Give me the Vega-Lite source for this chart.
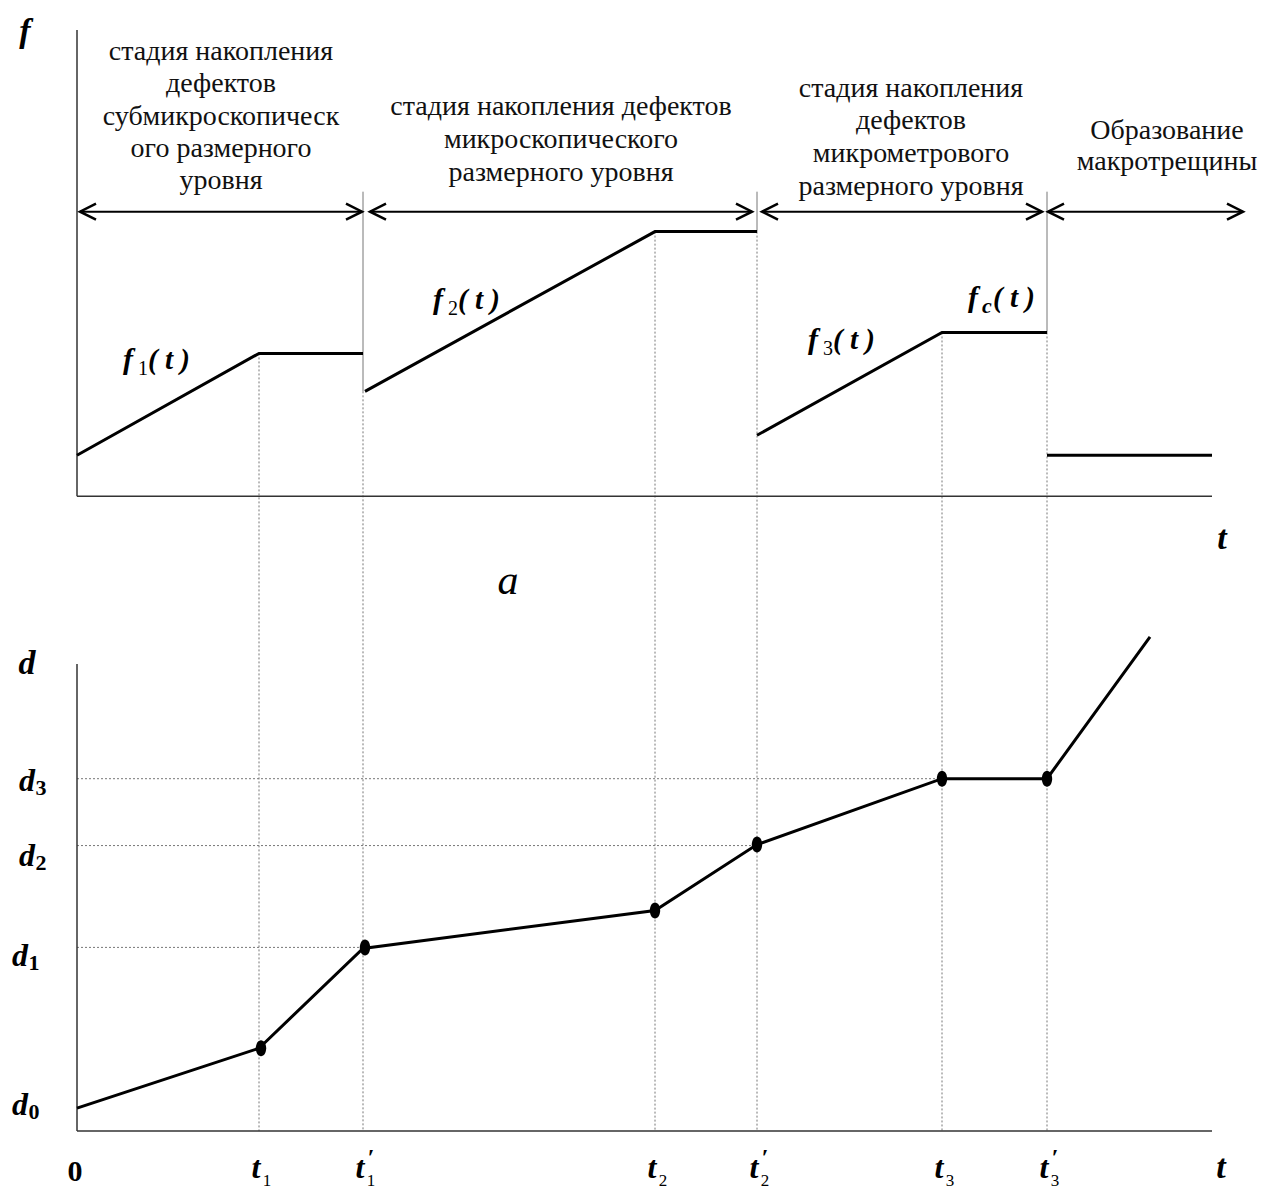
{
  "$schema": "https://vega.github.io/schema/vega-lite/v6.json",
  "width": 1264,
  "height": 1189,
  "padding": 0,
  "autosize": {"type": "fit", "contains": "padding"},
  "background": "white",
  "config": {"view": {"stroke": null}, "text": {"font": "Liberation Serif"}},
  "datasets": {
    "axTop": [
      {"t": 0, "f": 0, "t2": 0, "f2": 4.67},
      {"t": 0, "f": 0, "t2": 11.35, "f2": 0}
    ],
    "axBot": [
      {"t": 0, "d": 0, "t2": 0, "d2": 4.68},
      {"t": 0, "d": 0, "t2": 11.35, "d2": 0}
    ],
    "stages": [
      {"t": 1.44, "f": 4.37, "text": "стадия накопления"},
      {"t": 1.44, "f": 4.05, "text": "дефектов"},
      {"t": 1.44, "f": 3.72, "text": "субмикроскопическ"},
      {"t": 1.44, "f": 3.40, "text": "ого размерного"},
      {"t": 1.44, "f": 3.08, "text": "уровня"},
      {"t": 4.84, "f": 3.82, "text": "стадия накопления дефектов"},
      {"t": 4.84, "f": 3.49, "text": "микроскопического"},
      {"t": 4.84, "f": 3.16, "text": "размерного уровня"},
      {"t": 8.34, "f": 4.00, "text": "стадия накопления"},
      {"t": 8.34, "f": 3.68, "text": "дефектов"},
      {"t": 8.34, "f": 3.35, "text": "микрометрового"},
      {"t": 8.34, "f": 3.02, "text": "размерного уровня"},
      {"t": 10.90, "f": 3.58, "text": "Образование"},
      {"t": 10.90, "f": 3.27, "text": "макротрещины"}
    ],
    "arrows": [
      {"t": 0.03, "t2": 2.85, "f": 2.85},
      {"t": 2.93, "t2": 6.75, "f": 2.85},
      {"t": 6.85, "t2": 9.65, "f": 2.85},
      {"t": 9.71, "t2": 11.66, "f": 2.85}
    ],
    "seps": [
      {"t": 2.86, "f": 3.05, "f2": 1.05},
      {"t": 6.80, "f": 3.05, "f2": 2.65},
      {"t": 9.70, "f": 3.05, "f2": 1.64}
    ],
    "drops": [
      {"t": 1.82, "f": 1.43, "f2": -6.36},
      {"t": 2.86, "f": 1.05, "f2": -6.36},
      {"t": 5.78, "f": 2.65, "f2": -6.36},
      {"t": 6.80, "f": 2.65, "f2": -6.36},
      {"t": 8.65, "f": 1.64, "f2": -6.36},
      {"t": 9.70, "f": 1.64, "f2": -6.36}
    ],
    "fpts": [
      {"stage": 1, "t": 0, "f": 0.41},
      {"stage": 1, "t": 1.82, "f": 1.43},
      {"stage": 1, "t": 2.86, "f": 1.43},
      {"stage": 2, "t": 2.88, "f": 1.05},
      {"stage": 2, "t": 5.78, "f": 2.65},
      {"stage": 2, "t": 6.80, "f": 2.65},
      {"stage": 3, "t": 6.80, "f": 0.61},
      {"stage": 3, "t": 8.65, "f": 1.64},
      {"stage": 3, "t": 9.70, "f": 1.64},
      {"stage": 4, "t": 9.70, "f": 0.41},
      {"stage": 4, "t": 11.35, "f": 0.41}
    ],
    "flabels": [
      {"t": 0.46, "f": 1.27, "sub": "1"},
      {"t": 3.56, "f": 1.87, "sub": "2"},
      {"t": 7.31, "f": 1.47, "sub": "3"},
      {"t": 8.91, "f": 1.89, "sub": "c"}
    ],
    "namesTop": [
      {"kind": "axis", "t": -0.52, "f": 4.55, "text": "f"},
      {"kind": "axis", "t": 11.45, "f": -0.53, "text": "t"},
      {"kind": "panel", "t": 4.31, "f": -0.98, "text": "a"}
    ],
    "namesBot": [
      {"kind": "axis", "t": -0.50, "d": 4.58, "text": "d"},
      {"kind": "axis", "t": 11.44, "d": -0.47, "text": "t"},
      {"kind": "zero", "t": -0.02, "d": -0.50, "text": "0"}
    ],
    "dline": [
      {"t": 0, "d": 0.23},
      {"t": 1.82, "d": 0.83},
      {"t": 2.86, "d": 1.83},
      {"t": 5.78, "d": 2.21},
      {"t": 6.80, "d": 2.87},
      {"t": 8.65, "d": 3.53},
      {"t": 9.70, "d": 3.53},
      {"t": 10.73, "d": 4.95}
    ],
    "dots": [
      {"t": 1.84, "d": 0.83},
      {"t": 2.88, "d": 1.84},
      {"t": 5.78, "d": 2.21},
      {"t": 6.80, "d": 2.87},
      {"t": 8.65, "d": 3.53},
      {"t": 9.70, "d": 3.53}
    ],
    "dguides": [
      {"t": 0, "t2": 2.86, "d": 1.84},
      {"t": 0, "t2": 6.80, "d": 2.86},
      {"t": 0, "t2": 9.70, "d": 3.53}
    ],
    "dlabels": [
      {"t": -0.50, "d": 3.41, "sub": "3"},
      {"t": -0.50, "d": 2.66, "sub": "2"},
      {"t": -0.57, "d": 1.65, "sub": "1"},
      {"t": -0.57, "d": 0.16, "sub": "0"}
    ],
    "tlabels": [
      {"t": 1.82, "d": -0.47, "sub": "1", "prime": false},
      {"t": 2.86, "d": -0.47, "sub": "1", "prime": true},
      {"t": 5.78, "d": -0.47, "sub": "2", "prime": false},
      {"t": 6.80, "d": -0.47, "sub": "2", "prime": true},
      {"t": 8.65, "d": -0.47, "sub": "3", "prime": false},
      {"t": 9.70, "d": -0.47, "sub": "3", "prime": true}
    ]
  },
  "encoding": {
    "x": {"field": "t", "type": "quantitative", "scale": {"domain": [-0.77, 11.87], "nice": false, "zero": false}, "axis": null}
  },
  "layer": [
    {
      "encoding": {
        "y": {"field": "f", "type": "quantitative", "scale": {"domain": [-6.92, 4.97], "nice": false, "zero": false}, "axis": null}
      },
      "layer": [
        {
          "data": {"name": "drops"},
          "mark": {"type": "rule", "color": "#777", "strokeWidth": 1, "strokeDash": [2, 2]},
          "encoding": {"y2": {"field": "f2"}}
        },
        {
          "data": {"name": "seps"},
          "mark": {"type": "rule", "color": "#777", "strokeWidth": 1},
          "encoding": {"y2": {"field": "f2"}}
        },
        {
          "data": {"name": "axTop"},
          "mark": {"type": "rule", "color": "#333", "strokeWidth": 1.5},
          "encoding": {"x2": {"field": "t2"}, "y2": {"field": "f2"}}
        },
        {
          "data": {"name": "fpts"},
          "mark": {"type": "line", "color": "#000", "strokeWidth": 3},
          "encoding": {"detail": {"field": "stage", "type": "nominal"}}
        },
        {
          "data": {"name": "arrows"},
          "mark": {"type": "rule", "color": "#000", "strokeWidth": 2},
          "encoding": {"x2": {"field": "t2"}}
        },
        {
          "data": {"name": "arrows"},
          "mark": {"type": "point", "shape": "M 1,-0.5 L 0,0 L 1,0.5", "filled": false, "stroke": "#000", "strokeWidth": 2.5, "size": 1024, "opacity": 1},
          "encoding": {}
        },
        {
          "data": {"name": "arrows"},
          "mark": {"type": "point", "shape": "M -1,-0.5 L 0,0 L -1,0.5", "filled": false, "stroke": "#000", "strokeWidth": 2.5, "size": 1024, "opacity": 1},
          "encoding": {
            "x": {"field": "t2", "type": "quantitative", "scale": {"domain": [-0.77, 11.87], "nice": false, "zero": false}, "axis": null}
          }
        },
        {
          "data": {"name": "stages"},
          "mark": {"type": "text", "font": "Liberation Serif", "fontSize": 28, "align": "center", "baseline": "alphabetic", "color": "#111"},
          "encoding": {"text": {"field": "text", "type": "nominal"}}
        },
        {
          "data": {"name": "flabels"},
          "mark": {"type": "text", "font": "Liberation Serif", "fontSize": 30, "fontWeight": "bold", "fontStyle": "italic", "align": "left", "baseline": "alphabetic", "color": "#000"},
          "encoding": {"text": {"value": "f"}}
        },
        {
          "data": {"name": "flabels"},
          "transform": [{"filter": "!isNaN(+datum.sub)"}],
          "mark": {"type": "text", "font": "Liberation Serif", "fontSize": 20, "align": "left", "baseline": "alphabetic", "dx": 15, "dy": 6, "color": "#000"},
          "encoding": {"text": {"field": "sub", "type": "nominal"}}
        },
        {
          "data": {"name": "flabels"},
          "transform": [{"filter": "isNaN(+datum.sub)"}],
          "mark": {"type": "text", "font": "Liberation Serif", "fontSize": 22, "fontWeight": "bold", "fontStyle": "italic", "align": "left", "baseline": "alphabetic", "dx": 14, "dy": 6, "color": "#000"},
          "encoding": {"text": {"field": "sub", "type": "nominal"}}
        },
        {
          "data": {"name": "flabels"},
          "mark": {"type": "text", "font": "Liberation Serif", "fontSize": 29, "fontWeight": "bold", "fontStyle": "italic", "align": "left", "baseline": "alphabetic", "dx": 25, "color": "#000"},
          "encoding": {"text": {"value": "( t )"}}
        },
        {
          "data": {"name": "namesTop"},
          "transform": [{"filter": "datum.kind === 'axis'"}],
          "mark": {"type": "text", "font": "Liberation Serif", "fontSize": 34, "fontWeight": "bold", "fontStyle": "italic", "align": "center", "baseline": "alphabetic", "color": "#000"},
          "encoding": {"text": {"field": "text", "type": "nominal"}}
        },
        {
          "data": {"name": "namesTop"},
          "transform": [{"filter": "datum.kind === 'panel'"}],
          "mark": {"type": "text", "font": "Liberation Serif", "fontSize": 42, "fontStyle": "italic", "align": "center", "baseline": "alphabetic", "color": "#000"},
          "encoding": {"text": {"field": "text", "type": "nominal"}}
        }
      ]
    },
    {
      "encoding": {
        "y": {"field": "d", "type": "quantitative", "scale": {"domain": [-0.56, 11.33], "nice": false, "zero": false}, "axis": null}
      },
      "layer": [
        {
          "data": {"name": "dguides"},
          "mark": {"type": "rule", "color": "#777", "strokeWidth": 1, "strokeDash": [2, 2]},
          "encoding": {"x2": {"field": "t2"}}
        },
        {
          "data": {"name": "axBot"},
          "mark": {"type": "rule", "color": "#333", "strokeWidth": 1.5},
          "encoding": {"x2": {"field": "t2"}, "y2": {"field": "d2"}}
        },
        {
          "data": {"name": "dline"},
          "mark": {"type": "line", "color": "#000", "strokeWidth": 3},
          "encoding": {}
        },
        {
          "data": {"name": "dots"},
          "mark": {"type": "point", "shape": "M -0.65,0 A 0.65,1 0 1,1 0.65,0 A 0.65,1 0 1,1 -0.65,0 Z", "filled": true, "color": "#000", "size": 256, "opacity": 1},
          "encoding": {}
        },
        {
          "data": {"name": "dlabels"},
          "mark": {"type": "text", "font": "Liberation Serif", "fontSize": 32, "fontWeight": "bold", "fontStyle": "italic", "align": "center", "baseline": "alphabetic", "color": "#000"},
          "encoding": {"text": {"value": "d"}}
        },
        {
          "data": {"name": "dlabels"},
          "mark": {"type": "text", "font": "Liberation Serif", "fontSize": 22, "fontWeight": "bold", "align": "center", "baseline": "alphabetic", "dx": 14, "dy": 4, "color": "#000"},
          "encoding": {"text": {"field": "sub", "type": "nominal"}}
        },
        {
          "data": {"name": "tlabels"},
          "mark": {"type": "text", "font": "Liberation Serif", "fontSize": 32, "fontWeight": "bold", "fontStyle": "italic", "align": "center", "baseline": "alphabetic", "dx": -3, "color": "#000"},
          "encoding": {"text": {"value": "t"}}
        },
        {
          "data": {"name": "tlabels"},
          "mark": {"type": "text", "font": "Liberation Serif", "fontSize": 17, "align": "center", "baseline": "alphabetic", "dx": 8, "dy": 8, "color": "#000"},
          "encoding": {"text": {"field": "sub", "type": "nominal"}}
        },
        {
          "data": {"name": "tlabels"},
          "transform": [{"filter": "datum.prime"}],
          "mark": {"type": "text", "font": "Liberation Serif", "fontSize": 24, "fontWeight": "bold", "align": "center", "baseline": "alphabetic", "dx": 8, "dy": -13, "color": "#000"},
          "encoding": {"text": {"value": "′"}}
        },
        {
          "data": {"name": "namesBot"},
          "transform": [{"filter": "datum.kind === 'axis'"}],
          "mark": {"type": "text", "font": "Liberation Serif", "fontSize": 34, "fontWeight": "bold", "fontStyle": "italic", "align": "center", "baseline": "alphabetic", "color": "#000"},
          "encoding": {"text": {"field": "text", "type": "nominal"}}
        },
        {
          "data": {"name": "namesBot"},
          "transform": [{"filter": "datum.kind === 'zero'"}],
          "mark": {"type": "text", "font": "Liberation Serif", "fontSize": 30, "fontWeight": "bold", "align": "center", "baseline": "alphabetic", "color": "#000"},
          "encoding": {"text": {"field": "text", "type": "nominal"}}
        }
      ]
    }
  ],
  "resolve": {"scale": {"y": "independent"}}
}
